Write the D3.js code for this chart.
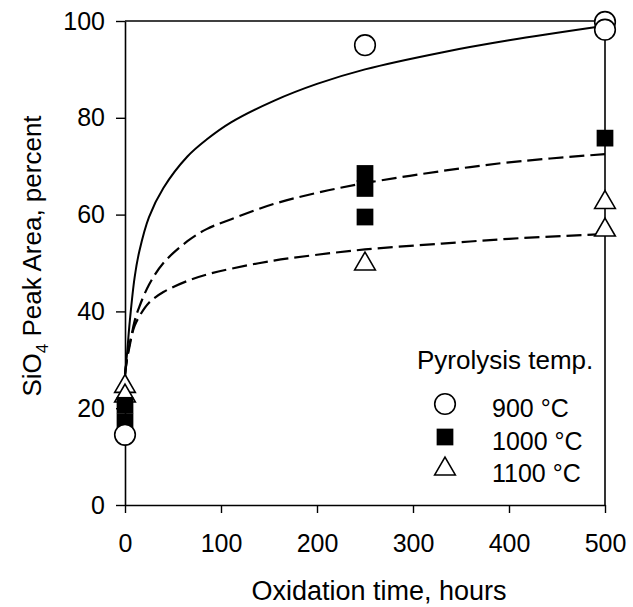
<!DOCTYPE html>
<html>
<head>
<meta charset="utf-8">
<script src="https://cdn.jsdelivr.net/npm/d3@7"></script>
<style>
  html, body { margin: 0; padding: 0; background: #fff; }
  svg { display: block; }
  text { font-family: "Liberation Sans", Arial, Helvetica, sans-serif; fill: #000; }
</style>
</head>
<body>
<svg id="chart" width="633" height="607"></svg>
<script>
// ---- data ----
const xTicks = [0, 100, 200, 300, 400, 500];
const yTicks = [0, 20, 40, 60, 80, 100];

// measured points (x = oxidation time in hours, y = SiO4 peak area %)
const pts900X = [0, 250, 500, 500];
const pts900Y = [14.5, 95, 99.8, 98.2];
const pts1000X = [0, 0, 250, 250, 250, 500];
const pts1000Y = [20.6, 17.2, 68.5, 65.4, 59.5, 75.8];
const pts1100X = [0, 0, 250, 500, 500];
const pts1100Y = [24.5, 22.5, 49.8, 62.5, 56.8];

// fitted curves as drawn in the figure
const curveX = [0, 2, 5, 10, 15, 25, 40, 65, 85, 110, 155, 200, 250, 330, 400, 500];
const curve900Y = [27, 31, 38, 47, 52.5, 59.5, 65.5, 72, 75.5, 79, 83.5, 87, 90, 93.5, 96, 99];
const curve1000Y = [27, 30, 33, 38, 41, 45.5, 50, 54.5, 57, 59, 62.2, 64.5, 66.5, 69, 70.8, 72.5];
const curve1100Y = [27, 30, 33.5, 37, 39, 41.8, 44, 46.3, 47.6, 48.8, 50.5, 51.7, 52.8, 54, 55, 56];

const legendTitle = "Pyrolysis temp.";
const legendLabels = ["900 °C", "1000 °C", "1100 °C"];
const xTitle = "Oxidation time, hours";

// ---- drawing ----
const FS = 25;
const svg = d3.select("#chart");
const x = d3.scaleLinear().domain([0, 500]).range([125, 605]);
const y = d3.scaleLinear().domain([0, 100]).range([505, 21]);

// frame (top & right)
svg.append("line").attr("x1", x(0)).attr("x2", x(500)).attr("y1", y(100)).attr("y2", y(100))
  .attr("stroke", "#000").attr("stroke-width", 1.6);
svg.append("line").attr("x1", x(500)).attr("x2", x(500)).attr("y1", y(100)).attr("y2", y(0))
  .attr("stroke", "#000").attr("stroke-width", 1.6);

// axes
const xAxis = svg.append("g").attr("transform", `translate(0,${y(0)})`)
  .call(d3.axisBottom(x).tickValues(xTicks).tickSize(8).tickPadding(21).tickSizeOuter(0));
const yAxis = svg.append("g").attr("transform", `translate(${x(0)},0)`)
  .call(d3.axisLeft(y).tickValues(yTicks).tickSize(9).tickPadding(11).tickSizeOuter(0));
[xAxis, yAxis].forEach(g => {
  g.select(".domain").attr("stroke", "#000").attr("stroke-width", 1.6);
  g.selectAll(".tick line").attr("stroke", "#000").attr("stroke-width", 1.4);
  g.selectAll(".tick text").attr("font-size", FS).attr("fill", "#000")
    .attr("font-family", "Liberation Sans, Arial, sans-serif");
});

// axis titles
svg.append("text").attr("x", 379).attr("y", 600)
  .attr("text-anchor", "middle").attr("font-size", 27).text(xTitle);
const yt = svg.append("text").attr("transform", `translate(41,256) rotate(-90)`)
  .attr("text-anchor", "middle").attr("font-size", 26);
yt.append("tspan").text("SiO");
yt.append("tspan").attr("font-size", 17).attr("dy", 7).text("4");
yt.append("tspan").attr("dy", -7).text(" Peak Area, percent");

// curves
const line = d3.line().x(d => x(d[0])).y(d => y(d[1])).curve(d3.curveCatmullRom.alpha(0.5));
const mk = (xs, ys) => xs.map((v, i) => [v, ys[i]]);
svg.append("path").datum(mk(curveX, curve900Y)).attr("d", line)
  .attr("fill", "none").attr("stroke", "#000").attr("stroke-width", 2);
svg.append("path").datum(mk(curveX, curve1000Y)).attr("d", line)
  .attr("fill", "none").attr("stroke", "#000").attr("stroke-width", 2.2).attr("stroke-dasharray", "15,6");
svg.append("path").datum(mk(curveX, curve1100Y)).attr("d", line)
  .attr("fill", "none").attr("stroke", "#000").attr("stroke-width", 2.2).attr("stroke-dasharray", "15,6");

// markers
const tri = d3.symbol().type(d3.symbolTriangle).size(185);
const sq = d3.symbol().type(d3.symbolSquare).size(280);
svg.append("g").selectAll("path").data(mk(pts1100X, pts1100Y)).join("path")
  .attr("d", tri).attr("transform", d => `translate(${x(d[0])},${y(d[1])})`)
  .attr("fill", "#fff").attr("stroke", "#000").attr("stroke-width", 1.6);
svg.append("g").selectAll("path").data(mk(pts1000X, pts1000Y)).join("path")
  .attr("d", sq).attr("transform", d => `translate(${x(d[0])},${y(d[1])})`)
  .attr("fill", "#000");
svg.append("g").selectAll("circle").data(mk(pts900X, pts900Y)).join("circle")
  .attr("cx", d => x(d[0])).attr("cy", d => y(d[1])).attr("r", 10.3)
  .attr("fill", "#fff").attr("stroke", "#000").attr("stroke-width", 1.6);

// legend
svg.append("text").attr("x", 417).attr("y", 369).attr("font-size", 26).text(legendTitle);
const legY = [404, 437, 469];
const lg = svg.append("g");
lg.append("circle").attr("cx", 445).attr("cy", legY[0]).attr("r", 10.3)
  .attr("fill", "#fff").attr("stroke", "#000").attr("stroke-width", 1.6);
lg.append("path").attr("d", sq).attr("transform", `translate(445,${legY[1]})`).attr("fill", "#000");
lg.append("path").attr("d", tri).attr("transform", `translate(445,${legY[2]})`)
  .attr("fill", "#fff").attr("stroke", "#000").attr("stroke-width", 1.6);
legendLabels.forEach((t, i) => {
  svg.append("text").attr("x", 492).attr("y", legY[i] + 13).attr("font-size", FS).text(t);
});
</script>
</body>
</html>
